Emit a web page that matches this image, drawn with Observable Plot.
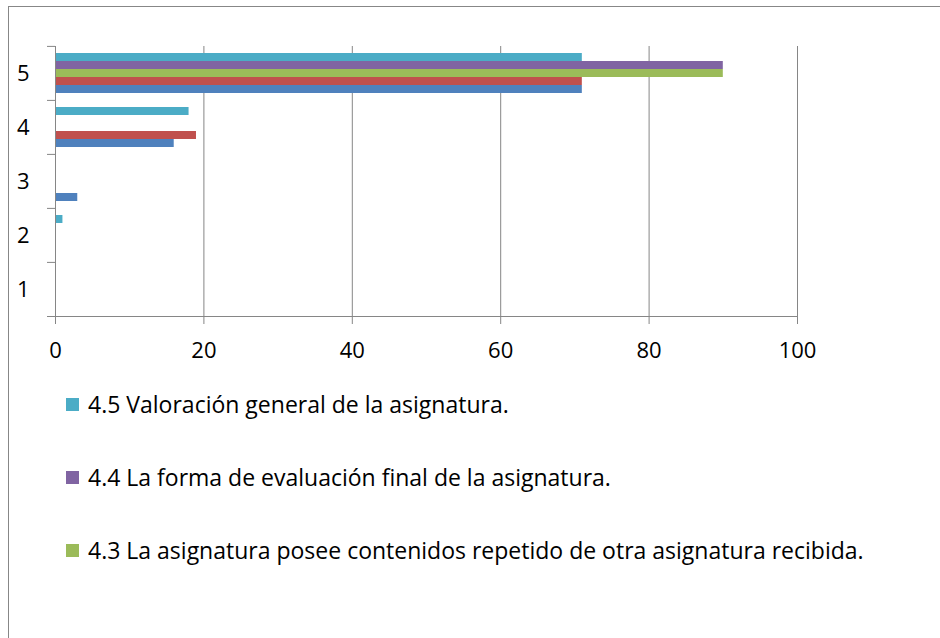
<!DOCTYPE html>
<html><head><meta charset="utf-8">
<script src="https://cdn.jsdelivr.net/npm/d3@7"></script>
<script src="https://cdn.jsdelivr.net/npm/@observablehq/plot@0.6"></script>
<style>
body{margin:0;background:#fff;font-family:"Open Sans",sans-serif;}
#frame{position:absolute;left:8px;top:6px;width:940px;height:640px;border-left:1px solid #878787;border-top:1px solid #878787;}
#chart{position:absolute;left:0;top:0;}
.leg{position:absolute;left:66px;height:30px;display:flex;align-items:center;font-size:23px;color:#000;white-space:nowrap;}
.sw{width:13px;height:13px;margin-right:9px;flex:none;}
</style></head><body>
<div id="frame"></div><div id="chart"></div><div id="legend"></div>
<script>
// categories (bottom to top: 1..5)
const categories = [1, 2, 3, 4, 5];
// series keys and colours (legend order, top of group first)
const seriesKeys = ["4.5", "4.4", "4.3", "4.2", "4.1"];
const seriesColors = ["#4BACC6", "#8064A2", "#9BBB59", "#C0504D", "#4F81BD"];
// values per category 1..5
const s41 = [0, 0, 3, 16, 71];
const s42 = [0, 0, 0, 19, 71];
const s43 = [0, 0, 0, 0, 90];
const s44 = [0, 0, 0, 0, 90];
const s45 = [0, 1, 0, 18, 71];
const xTicks = [0, 20, 40, 60, 80, 100];
const legendLabels = [
  "4.5 Valoración general de la asignatura.",
  "4.4 La forma de evaluación final de la asignatura.",
  "4.3 La asignatura posee contenidos repetido de otra asignatura recibida."
];
const legendColors = ["#4BACC6", "#8064A2", "#9BBB59"];

const seriesValues = {"4.1": s41, "4.2": s42, "4.3": s43, "4.4": s44, "4.5": s45};
const rows = [];
categories.forEach((c, i) => seriesKeys.forEach(s => rows.push({cat: c, series: s, value: seriesValues[s][i]})));

const axisColor = "#868686";
const chart = Plot.plot({
  width: 940, height: 372,
  marginLeft: 55, marginRight: 143, marginTop: 45, marginBottom: 56,
  style: {fontFamily: "'Open Sans', sans-serif", fontSize: "21px", color: "#000", background: "transparent", overflow: "visible"},
  x: {domain: [0, 100], label: null},
  fy: {domain: [5, 4, 3, 2, 1], padding: 0, label: null},
  y: {domain: seriesKeys, paddingInner: 0, paddingOuter: 0.8, axis: null},
  color: {domain: seriesKeys, range: seriesColors},
  marks: [
    Plot.gridX(xTicks.slice(1), {stroke: axisColor, strokeOpacity: 1}),
    Plot.barX(rows, {fy: "cat", y: "series", x: "value", fill: "series", inset: 0}),
    Plot.ruleX([0], {stroke: axisColor}),
    Plot.frame({anchor: "bottom", facet: "super", stroke: axisColor, insetLeft: -8}),
    Plot.axisX({ticks: xTicks, tickSize: 8, tickPadding: 18, stroke: axisColor, fill: "#000", label: null, fontSize: 22}),
    Plot.axisFy({anchor: "left", tickSize: 0, tickPadding: 26, label: null, fontSize: 22, fill: "#000"}),
    Plot.axisFy({anchor: "left", tickSize: 8, tickFormat: () => "", label: null, dy: -27.1, stroke: axisColor})
  ]
});
document.getElementById("chart").appendChild(chart);

const tops = [389, 462, 535];
const leg = document.getElementById("legend");
legendLabels.forEach((t, i) => {
  const d = document.createElement("div");
  d.className = "leg";
  d.style.top = tops[i] + "px";
  d.innerHTML = `<span class="sw" style="background:${legendColors[i]}"></span><span>${t}</span>`;
  leg.appendChild(d);
});
</script>
</body></html>
